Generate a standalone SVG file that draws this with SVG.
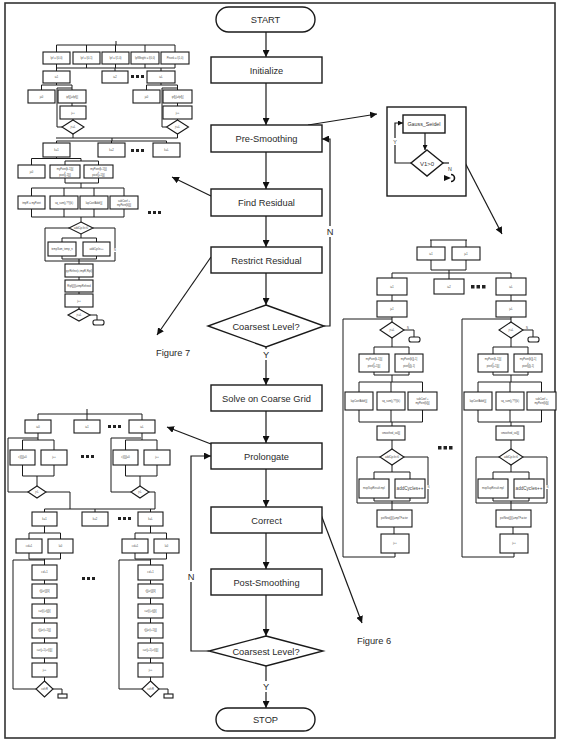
<svg xmlns="http://www.w3.org/2000/svg" width="561" height="742" viewBox="0 0 561 742">
<defs>
<style>
.frame{fill:none;stroke:#333;stroke-width:1.6}
.b{fill:#fff;stroke:#1a1a1a;stroke-width:1.4}
.s{fill:#fff;stroke:#1a1a1a;stroke-width:1.1}
.l{fill:none;stroke:#1a1a1a;stroke-width:1.2}
.ls{fill:none;stroke:#1a1a1a;stroke-width:1}
.t{font-family:"Liberation Sans",Arial,sans-serif;font-size:9.3px;fill:#2a2a2a;text-anchor:middle}
.tl{font-family:"Liberation Sans",Arial,sans-serif;font-size:9.3px;fill:#2a2a2a}
.tt{font-family:"Liberation Sans",Arial,sans-serif;font-size:2.6px;fill:#444;text-anchor:middle}
.tm{font-family:"Liberation Sans",Arial,sans-serif;font-size:5.3px;fill:#333;text-anchor:middle}
.dot{fill:#222}
</style>
<marker id="ah" viewBox="0 0 10 10" refX="10" refY="5" markerWidth="7" markerHeight="7" markerUnits="userSpaceOnUse" orient="auto">
<path d="M0,0 L10,5 L0,10 z" fill="#111"/>
</marker>
<marker id="ahs" viewBox="0 0 10 10" refX="10" refY="5" markerWidth="5" markerHeight="5" markerUnits="userSpaceOnUse" orient="auto">
<path d="M0,0 L10,5 L0,10 z" fill="#111"/>
</marker>
</defs>
<rect width="561" height="742" fill="#fff"/>
<rect class="frame" x="5" y="3" width="550" height="735"/>

<!-- connectors of the main flow -->
<g id="connectors">
<path class="l" d="M266,32 V57" marker-end="url(#ah)"/>
<path class="l" d="M266,83 V125" marker-end="url(#ah)"/>
<path class="l" d="M266,152 V189" marker-end="url(#ah)"/>
<path class="l" d="M266,216 V247" marker-end="url(#ah)"/>
<path class="l" d="M266,273 V305" marker-end="url(#ah)"/>
<path class="l" d="M266,347 V385" marker-end="url(#ah)"/>
<path class="l" d="M266,411 V443" marker-end="url(#ah)"/>
<path class="l" d="M266,469 V507" marker-end="url(#ah)"/>
<path class="l" d="M266,533 V569" marker-end="url(#ah)"/>
<path class="l" d="M266,595 V636" marker-end="url(#ah)"/>
<path class="l" d="M266,666 V708" marker-end="url(#ah)"/>
<path class="l" d="M324,326 H330 V139 H322" marker-end="url(#ah)"/>
<path class="l" d="M209,651 H191 V456 H211" marker-end="url(#ah)"/>
<rect x="260" y="349" width="12" height="11" fill="#fff"/>
<text class="t" x="266" y="358">Y</text>
<rect x="260" y="681" width="12" height="11" fill="#fff"/>
<text class="t" x="266" y="690">Y</text>
<rect x="325" y="226" width="11" height="11" fill="#fff"/>
<text class="t" x="330" y="235">N</text>
<rect x="185" y="571" width="12" height="11" fill="#fff"/>
<text class="t" x="191" y="580">N</text>
<!-- links to detail charts -->
<path class="l" d="M308,125 L377,114" marker-end="url(#ah)"/>
<path class="l" d="M445,124 L502,234" marker-end="url(#ah)"/>
<path class="l" d="M211,196 L172,177" marker-end="url(#ah)"/>
<path class="l" d="M211,257 L157,335" marker-end="url(#ah)"/>
<path class="l" d="M211,444 L167,427" marker-end="url(#ah)"/>
<path class="l" d="M320,512 L362,623" marker-end="url(#ah)"/>
</g>

<!-- main nodes -->
<g id="start"><rect class="b" x="216" y="7" width="99" height="25" rx="12.5"/><text class="t" x="265.5" y="23">START</text></g>
<g id="initialize"><rect class="b" x="211" y="57" width="111" height="26"/><text class="t" x="266.5" y="73.5">Initialize</text></g>
<g id="pre-smoothing"><rect class="b" x="211" y="125" width="111" height="27"/><text class="t" x="266.5" y="142">Pre-Smoothing</text></g>
<g id="find-residual"><rect class="b" x="211" y="189" width="111" height="27"/><text class="t" x="266.5" y="206">Find Residual</text></g>
<g id="restrict-residual"><rect class="b" x="211" y="247" width="111" height="26"/><text class="t" x="266.5" y="263.5">Restrict Residual</text></g>
<g id="coarsest-1"><polygon class="b" points="266,305 324,326 266,347 208,326"/><text class="t" x="266" y="329.5">Coarsest Level?</text></g>
<g id="solve"><rect class="b" x="211" y="385" width="111" height="26"/><text class="t" x="266.5" y="401.5">Solve on Coarse Grid</text></g>
<g id="prolongate"><rect class="b" x="211" y="443" width="111" height="26"/><text class="t" x="266.5" y="459.5">Prolongate</text></g>
<g id="correct"><rect class="b" x="211" y="507" width="111" height="26"/><text class="t" x="266.5" y="523.5">Correct</text></g>
<g id="post-smoothing"><rect class="b" x="211" y="569" width="111" height="26"/><text class="t" x="266.5" y="585.5">Post-Smoothing</text></g>
<g id="coarsest-2"><polygon class="b" points="266,636 323,651 266,666 209,651"/><text class="t" x="266" y="654.5">Coarsest Level?</text></g>
<g id="stop"><rect class="b" x="216" y="708" width="99" height="23" rx="11.5"/><text class="t" x="265.5" y="723">STOP</text></g>

<g id="figure7-label"><text class="tl" x="156" y="356">Figure 7</text></g>
<g id="figure6-label"><text class="tl" x="357" y="644">Figure 6</text></g>

<!-- Gauss-Seidel box -->
<g id="gauss-seidel">
<rect class="b" x="387" y="107" width="79" height="89"/>
<rect class="b" x="403" y="115" width="42" height="18"/>
<text class="tm" x="424" y="126">Gauss_Seidel</text>
<path class="l" d="M425,133 V150" marker-end="url(#ahs)"/>
<polygon class="b" points="427,150 443,163 427,176 411,163"/>
<text class="tm" x="427" y="165.5" style="font-size:6px">V1&gt;0</text>
<path class="l" d="M411,163 H395 V123 H403" marker-end="url(#ahs)"/>
<rect x="391" y="138" width="8" height="7" fill="#fff"/>
<text class="tm" x="395" y="144">Y</text>
<path class="l" d="M443,163 H449"/>
<text class="tm" x="450" y="171">N</text>
<path d="M444,175 L451,178 L444,181 z" fill="#111"/>
<path d="M451,174.5 A3.5,3.5 0 1 1 451,181.5" fill="none" stroke="#111" stroke-width="1.6"/>
</g>

<!-- Figure 7 detail chart (restriction) -->
<g id="restrict-chart">
<path class="ls" d="M116,41 V45 M56.5,45 H175 M56.5,45 V52 M86.5,45 V52 M115.5,45 V52 M145,45 V52 M175,45 V52"/>
<rect class="s" x="43" y="52" width="27" height="12"/><text class="tt" x="56.5" y="59">Ipf = I(0,0)</text>
<rect class="s" x="73" y="52" width="27" height="12"/><text class="tt" x="86.5" y="59">Ipf = I(0,1)</text>
<rect class="s" x="102" y="52" width="27" height="12"/><text class="tt" x="115.5" y="59">Ipf = I(1,0)</text>
<rect class="s" x="131" y="52" width="28" height="12"/><text class="tt" x="145" y="59">IpfWeight = I(0,0)</text>
<rect class="s" x="161" y="52" width="28" height="12"/><text class="tt" x="175" y="59">Ptrunk = I(1,0)</text>
<path class="ls" d="M56.5,64 V68 M86.5,64 V68 M115.5,64 V68 M145,64 V68 M175,64 V68 M56.5,68 H175 M56.5,68 V71 M115,68 V71 M161,68 V71"/>
<rect class="s" x="43" y="71" width="27" height="12"/><text class="tt" x="56.5" y="78">i=1</text>
<rect class="s" x="102" y="71" width="26" height="12"/><text class="tt" x="115" y="78">i=2</text>
<rect class="s" x="147" y="71" width="28" height="12"/><text class="tt" x="161" y="78">i=L</text>
<rect class="dot" x="131" y="75" width="3" height="3"/><rect class="dot" x="136" y="75" width="3" height="3"/><rect class="dot" x="141" y="75" width="3" height="3"/>
<!-- left loop -->
<path class="ls" d="M56.5,83 V85 M41.5,85 H72 M41.5,85 V90 M72,85 V90 M72,103 V106 M73,119 V120 M62,127 H57 V88 H72 M73,134 V138"/>
<rect class="s" x="28" y="90" width="27" height="13"/><text class="tt" x="41.5" y="97.5">j=0</text>
<rect class="s" x="58" y="90" width="28" height="13"/><text class="tt" x="72" y="97.5">ipf[j]=ifpf[j]</text>
<rect class="s" x="60" y="106" width="26" height="13"/><text class="tt" x="73" y="113.5">j++</text>
<polygon class="s" points="73,120 84,127 73,134 62,127"/><text class="tt" x="73" y="128">j&lt;=L</text>
<!-- right loop -->
<path class="ls" d="M161,83 V85 M146.5,85 H177.5 M146.5,85 V90 M177.5,85 V90 M177.5,103 V106 M177.5,119 V120 M166.5,127 H162 V88 H177.5 M177.5,134 V138"/>
<rect class="s" x="133" y="90" width="27" height="13"/><text class="tt" x="146.5" y="97.5">j=0</text>
<rect class="s" x="163" y="90" width="29" height="13"/><text class="tt" x="177.5" y="97.5">ipf[j]=ifpf[j]</text>
<rect class="s" x="163" y="106" width="29" height="13"/><text class="tt" x="177.5" y="113.5">j++</text>
<polygon class="s" points="177.5,120 188.5,127 177.5,134 166.5,127"/><text class="tt" x="177.5" y="128">j&lt;=L</text>
<!-- k row -->
<path class="ls" d="M56,138 H177.5 M112,138 V141 M56.5,141 H166.5 M56.5,141 V143 M111.5,141 V143 M166.5,141 V143"/>
<rect class="s" x="43" y="143" width="27" height="14"/><text class="tt" x="56.5" y="151">k=1</text>
<rect class="s" x="98" y="143" width="27" height="14"/><text class="tt" x="111.5" y="151">k=2</text>
<rect class="s" x="153" y="143" width="27" height="14"/><text class="tt" x="166.5" y="151">k=L</text>
<rect class="dot" x="131" y="149" width="3" height="3"/><rect class="dot" x="136" y="149" width="3" height="3"/><rect class="dot" x="141" y="149" width="3" height="3"/>
<path class="ls" d="M56.5,157 V158.5 M31.5,158.5 H81 M31.5,158.5 V165 M81,158.5 V161 M65,161 H98.5 M65,161 V165 M98.5,161 V165 M65,178 V183 M98.5,178 V183 M65,183 H98.5 M81,183 V188 M31.5,188 H124 M31.5,188 V196 M64,188 V196 M94,188 V196 M124,188 V196 M31.5,209 V217 M64,209 V217 M94,209 V217 M124,209 V217 M31.5,217 H124 M81,217 V222"/>
<rect class="s" x="18" y="165" width="27" height="13"/><text class="tt" x="31.5" y="172.5">j=0</text>
<rect class="s" x="50" y="165" width="30" height="13"/><text class="tt" x="65" y="170">myPoint[k-1][j]</text><text class="tt" x="65" y="173">+</text><text class="tt" x="65" y="176">pixel[j-1][j]</text>
<rect class="s" x="84" y="165" width="29" height="13"/><text class="tt" x="98.5" y="170">myPoint[k-1][j]</text><text class="tt" x="98.5" y="173">+</text><text class="tt" x="98.5" y="176">pixel[j+1][j]</text>
<rect class="s" x="18" y="196" width="27" height="13"/><text class="tt" x="31.5" y="203.5">tmpR = myPoint</text>
<rect class="s" x="50" y="196" width="28" height="13"/><text class="tt" x="64" y="203.5">sq_sum(j,??)(k)</text>
<rect class="s" x="80" y="196" width="28" height="13"/><text class="tt" x="94" y="203.5">lapCoefAddr[j]</text>
<rect class="s" x="110" y="196" width="28" height="13"/><text class="tt" x="124" y="202">subCoef +</text><text class="tt" x="124" y="205.5">myPoint[k][j]</text>
<rect class="dot" x="148" y="211" width="3" height="3"/><rect class="dot" x="153" y="211" width="3" height="3"/><rect class="dot" x="158" y="211" width="3" height="3"/>
<polygon class="s" points="81,222 93,228 81,234 69,228"/><text class="tt" x="81" y="229">addCycle&gt;0</text>
<path class="ls" d="M69,228 H45 V261 H115 V228 H93 M81,234 V238 M62,238 H96.5 M62,238 V242 M96.5,238 V242 M62,256 V259 M96.5,256 V259 M62,259 H96.5 M79,259 V264 M79,277 V280 M79,292 V294 M79,307 V309 M90,315 H97 V320"/>
<rect x="112" y="248" width="6" height="4" fill="#fff"/><text class="tt" x="115" y="251">N</text>
<rect class="s" x="48" y="242" width="28" height="14"/><text class="tt" x="62" y="250">tempSum_temp_n</text>
<rect class="s" x="83" y="242" width="27" height="14"/><text class="tt" x="96.5" y="250">addCycle++</text>
<rect class="s" x="65" y="264" width="28" height="13"/><text class="tt" x="79" y="271.5">pyrRefine(c,tmpR,Rtpl)</text>
<rect class="s" x="65" y="280" width="28" height="12"/><text class="tt" x="79" y="287">Rtpl[j][i]=tmpRefined</text>
<rect class="s" x="65" y="294" width="28" height="13"/><text class="tt" x="79" y="301.5">j++</text>
<polygon class="s" points="79,309 90,315 79,321 68,315"/><text class="tt" x="79" y="316">j&lt;=L</text>
<rect class="s" x="93" y="320" width="11" height="5" rx="2"/>
</g>

<!-- Figure 6 detail chart (smoothing) -->
<g id="smooth-chart">
<path class="ls" d="M430,240 H467 M431,240 V247 M466,240 V247 M431,260 V270 M466,260 V270 M431,270 H466 M449,270 V273 M392,273 H511 M392,273 V278 M449,273 V279 M511,273 V278"/>
<rect class="s" x="417" y="247" width="28" height="13"/><text class="tt" x="431" y="254.5">i=1</text>
<rect class="s" x="452" y="247" width="28" height="13"/><text class="tt" x="466" y="254.5">j=1</text>
<rect class="s" x="434" y="279" width="30" height="15"/><text class="tt" x="449" y="287.5">i=2</text>
<rect class="dot" x="471" y="285" width="3.5" height="3.5"/><rect class="dot" x="476.5" y="285" width="3.5" height="3.5"/><rect class="dot" x="482" y="285" width="3.5" height="3.5"/>
<rect class="dot" x="438" y="446" width="3.5" height="3.5"/><rect class="dot" x="443.5" y="446" width="3.5" height="3.5"/><rect class="dot" x="449" y="446" width="3.5" height="3.5"/>
</g>
<g id="smooth-col-1">
<rect class="s" x="377" y="278" width="30" height="17"/><text class="tt" x="392" y="287.5">i=1</text>
<rect class="s" x="377" y="301" width="30" height="16"/><text class="tt" x="392" y="310">j=1</text>
<path class="ls" d="M392,295 V301 M392,317 V322 M343,319 H392 M343,319 V557 H395 V553 M404,330 H414 V337 M392,338 V347 M374,347 H409 M374,347 V354 M409,347 V354 M374,372 V375 M409,372 V375 M374,375 H409 M392,375 V382 M359,382 H422.5 M359,382 V392 M391,382 V392 M422.5,382 V392 M359,410 V422 M391,410 V422 M422.5,410 V422 M359,422 H422.5 M392,422 V426 M392,440 V449 M380,457 H357 V503 H428 V457 H404 M392,465 V472 M374,472 H410 M374,472 V479 M410,472 V479 M374,498 V501 M410,498 V501 M374,501 H410 M392,501 V510 M394,527 V534"/>
<polygon class="s" points="392,322 404,330 392,338 380,330"/><text class="tt" x="392" y="331">j&lt;=L</text>
<text class="tt" x="408" y="328.5">N</text>
<rect class="s" x="409" y="337" width="11" height="5" rx="2"/>
<rect class="s" x="359" y="354" width="30" height="18"/><text class="tt" x="374" y="360">myPoint[k-1][j]</text><text class="tt" x="374" y="363.5">+</text><text class="tt" x="374" y="367">pixel[j+1][j]</text>
<rect class="s" x="395" y="354" width="28" height="18"/><text class="tt" x="409" y="360">myPoint[k][j-1]</text><text class="tt" x="409" y="363.5">+</text><text class="tt" x="409" y="367">pixel[j][j-1]</text>
<rect class="s" x="345" y="392" width="28" height="18"/><text class="tt" x="359" y="402">lapCoefAddr[j]</text>
<rect class="s" x="377" y="392" width="28" height="18"/><text class="tt" x="391" y="402">sq_sum(j,??)(k)</text>
<rect class="s" x="408" y="392" width="29" height="18"/><text class="tt" x="422.5" y="400">subCoef +</text><text class="tt" x="422.5" y="404">myPoint[k][j]</text>
<rect class="s" x="377" y="426" width="28" height="14"/><text class="tt" x="391" y="434">smoothed_val[j]</text>
<polygon class="s" points="392,449 404,457 392,465 380,457"/><text class="tt" x="392" y="458">addCycle&gt;0</text>
<rect x="426" y="485" width="5" height="4" fill="#fff"/><text class="tt" x="428.5" y="488">N</text>
<rect class="s" x="359" y="479" width="30" height="19"/><text class="tt" x="374" y="489">mxpSupResult.mpl</text>
<rect class="s" x="395" y="479" width="30" height="19"/><text class="tt" x="410" y="490" style="font-size:4.6px">addCycles++</text>
<rect class="s" x="377" y="510" width="35" height="17"/><text class="tt" x="394.5" y="519">potNew[j][i]=mpl*Factor</text>
<rect class="s" x="381" y="534" width="28" height="19"/><text class="tt" x="395" y="544">j++</text>
</g>
<g id="smooth-col-L" transform="translate(119,0)">
<rect class="s" x="377" y="278" width="30" height="17"/><text class="tt" x="392" y="287.5">i=L</text>
<rect class="s" x="377" y="301" width="30" height="16"/><text class="tt" x="392" y="310">j=L</text>
<path class="ls" d="M392,295 V301 M392,317 V322 M343,319 H392 M343,319 V557 H395 V553 M404,330 H414 V337 M392,338 V347 M374,347 H409 M374,347 V354 M409,347 V354 M374,372 V375 M409,372 V375 M374,375 H409 M392,375 V382 M359,382 H422.5 M359,382 V392 M391,382 V392 M422.5,382 V392 M359,410 V422 M391,410 V422 M422.5,410 V422 M359,422 H422.5 M392,422 V426 M392,440 V449 M380,457 H357 V503 H428 V457 H404 M392,465 V472 M374,472 H410 M374,472 V479 M410,472 V479 M374,498 V501 M410,498 V501 M374,501 H410 M392,501 V510 M394,527 V534"/>
<polygon class="s" points="392,322 404,330 392,338 380,330"/><text class="tt" x="392" y="331">j&lt;=L</text>
<text class="tt" x="408" y="328.5">N</text>
<rect class="s" x="409" y="337" width="11" height="5" rx="2"/>
<rect class="s" x="359" y="354" width="30" height="18"/><text class="tt" x="374" y="360">myPoint[k-1][j]</text><text class="tt" x="374" y="363.5">+</text><text class="tt" x="374" y="367">pixel[j+1][j]</text>
<rect class="s" x="395" y="354" width="28" height="18"/><text class="tt" x="409" y="360">myPoint[k][j-1]</text><text class="tt" x="409" y="363.5">+</text><text class="tt" x="409" y="367">pixel[j][j-1]</text>
<rect class="s" x="345" y="392" width="28" height="18"/><text class="tt" x="359" y="402">lapCoefAddr[j]</text>
<rect class="s" x="377" y="392" width="28" height="18"/><text class="tt" x="391" y="402">sq_sum(j,??)(k)</text>
<rect class="s" x="408" y="392" width="29" height="18"/><text class="tt" x="422.5" y="400">subCoef +</text><text class="tt" x="422.5" y="404">myPoint[k][j]</text>
<rect class="s" x="377" y="426" width="28" height="14"/><text class="tt" x="391" y="434">smoothed_val[j]</text>
<polygon class="s" points="392,449 404,457 392,465 380,457"/><text class="tt" x="392" y="458">addCycle&gt;0</text>
<rect x="426" y="485" width="5" height="4" fill="#fff"/><text class="tt" x="428.5" y="488">N</text>
<rect class="s" x="359" y="479" width="30" height="19"/><text class="tt" x="374" y="489">mxpSupResult.mpl</text>
<rect class="s" x="395" y="479" width="30" height="19"/><text class="tt" x="410" y="490" style="font-size:4.6px">addCycles++</text>
<rect class="s" x="377" y="510" width="35" height="17"/><text class="tt" x="394.5" y="519">potNew[j][i]=mpl*Factor</text>
<rect class="s" x="381" y="534" width="28" height="19"/><text class="tt" x="395" y="544">j++</text>
</g>

<!-- bottom-left detail chart (prolongation) -->
<g id="prolong-chart">
<path class="ls" d="M87,409 V414 M38,414 H142 M38,414 V420 M87,414 V420 M142,414 V420 M142,433 V440 M46,492 H70 V509 M149,492 H155 V509 M44.5,509 H155 M44.5,509 V512 M95,509 V512 M150.5,509 V512"/>
<rect class="s" x="25" y="420" width="26" height="13"/><text class="tt" x="38" y="427.5">i=0</text>
<rect class="s" x="74" y="420" width="26" height="13"/><text class="tt" x="87" y="427.5">i=1</text>
<rect class="s" x="129" y="420" width="26" height="13"/><text class="tt" x="142" y="427.5">i=L</text>
<rect class="dot" x="108" y="425" width="3" height="3"/><rect class="dot" x="113" y="425" width="3" height="3"/><rect class="dot" x="118" y="425" width="3" height="3"/>
<rect class="dot" x="81" y="455" width="3" height="3"/><rect class="dot" x="86" y="455" width="3" height="3"/><rect class="dot" x="91" y="455" width="3" height="3"/>
<rect class="s" x="32" y="512" width="25" height="14"/><text class="tt" x="44.5" y="520">k=1</text>
<rect class="s" x="82" y="512" width="26" height="14"/><text class="tt" x="95" y="520">k=2</text>
<rect class="s" x="138" y="512" width="25" height="14"/><text class="tt" x="150.5" y="520">k=L</text>
<rect class="dot" x="118" y="517" width="3" height="3"/><rect class="dot" x="123" y="517" width="3" height="3"/><rect class="dot" x="128" y="517" width="3" height="3"/>
<rect class="dot" x="82" y="577" width="3" height="3"/><rect class="dot" x="87" y="577" width="3" height="3"/><rect class="dot" x="92" y="577" width="3" height="3"/>
</g>
<g id="prolong-i-0">
<path class="ls" d="M38,433 V440 M22.5,440 H54 M22.5,440 V450 M54,440 V450 M22.5,465 V476 M54,465 V476 M22.5,476 H54 M37,476 V486 M28,492 H8 V438 H38"/>
<rect class="s" x="10" y="450" width="25" height="15"/><text class="tt" x="22.5" y="458">c[i][j]=0</text>
<rect class="s" x="41" y="450" width="26" height="15"/><text class="tt" x="54" y="458">j++</text>
<polygon class="s" points="37,486 46,492 37,498 28,492"/><text class="tt" x="37" y="493">j&lt;L</text>
</g>
<g id="prolong-i-L" transform="translate(103,0)">
<path class="ls" d="M22.5,440 H54 M22.5,440 V450 M54,440 V450 M22.5,465 V476 M54,465 V476 M22.5,476 H54 M37,476 V486 M28,492 H8 V438 H38"/>
<rect class="s" x="10" y="450" width="25" height="15"/><text class="tt" x="22.5" y="458">c[i][j]=0</text>
<rect class="s" x="41" y="450" width="26" height="15"/><text class="tt" x="54" y="458">j++</text>
<polygon class="s" points="37,486 46,492 37,498 28,492"/><text class="tt" x="37" y="493">j&lt;L</text>
</g>
<g id="prolong-k-1">
<path class="ls" d="M44.5,526 V533 M29,533 H60.5 M29,533 V539 M60.5,533 V539 M29,553 V559 M60.5,553 V559 M29,559 H60.5 M44.5,559 V565 M44.5,580 V584 M44.5,598 V604 M44.5,618 V623 M44.5,638 V643 M44.5,658 V663 M44.5,677 V681 M36,689 H13 V560 H44.5 M53,689 H62 V694"/>
<rect class="s" x="16" y="539" width="26" height="14"/><text class="tt" x="29" y="547">col=1</text>
<rect class="s" x="48" y="539" width="25" height="14"/><text class="tt" x="60.5" y="547">l=0</text>
<rect class="s" x="32" y="565" width="25" height="15"/><text class="tt" x="44.5" y="573">col+1</text>
<rect class="s" x="32" y="584" width="25" height="14"/><text class="tt" x="44.5" y="592">r[j]=r[j][0]</text>
<rect class="s" x="32" y="604" width="25" height="14"/><text class="tt" x="44.5" y="612">c=r[i]+r[j][i]</text>
<rect class="s" x="32" y="623" width="25" height="15"/><text class="tt" x="44.5" y="631">r[j]=r(i+1)[j]</text>
<rect class="s" x="32" y="643" width="25" height="15"/><text class="tt" x="44.5" y="651">c=r(j+1)+r[i][j]</text>
<rect class="s" x="32" y="663" width="25" height="14"/><text class="tt" x="44.5" y="671">j++</text>
<polygon class="s" points="44.5,681 53,689 44.5,697 36,689"/><text class="tt" x="44.5" y="690">col&lt;R</text>
<rect class="s" x="58" y="694" width="9" height="4"/>
</g>
<g id="prolong-k-L" transform="translate(106,0)">
<path class="ls" d="M44.5,526 V533 M29,533 H60.5 M29,533 V539 M60.5,533 V539 M29,553 V559 M60.5,553 V559 M29,559 H60.5 M44.5,559 V565 M44.5,580 V584 M44.5,598 V604 M44.5,618 V623 M44.5,638 V643 M44.5,658 V663 M44.5,677 V681 M36,689 H13 V560 H44.5 M53,689 H62 V694"/>
<rect class="s" x="16" y="539" width="26" height="14"/><text class="tt" x="29" y="547">col=1</text>
<rect class="s" x="48" y="539" width="25" height="14"/><text class="tt" x="60.5" y="547">l=0</text>
<rect class="s" x="32" y="565" width="25" height="15"/><text class="tt" x="44.5" y="573">col+1</text>
<rect class="s" x="32" y="584" width="25" height="14"/><text class="tt" x="44.5" y="592">r[j]=r[j][0]</text>
<rect class="s" x="32" y="604" width="25" height="14"/><text class="tt" x="44.5" y="612">c=r[i]+r[j][i]</text>
<rect class="s" x="32" y="623" width="25" height="15"/><text class="tt" x="44.5" y="631">r[j]=r(i+1)[j]</text>
<rect class="s" x="32" y="643" width="25" height="15"/><text class="tt" x="44.5" y="651">c=r(j+1)+r[i][j]</text>
<rect class="s" x="32" y="663" width="25" height="14"/><text class="tt" x="44.5" y="671">j++</text>
<polygon class="s" points="44.5,681 53,689 44.5,697 36,689"/><text class="tt" x="44.5" y="690">col&lt;R</text>
<rect class="s" x="58" y="694" width="9" height="4"/>
</g>
</svg>
